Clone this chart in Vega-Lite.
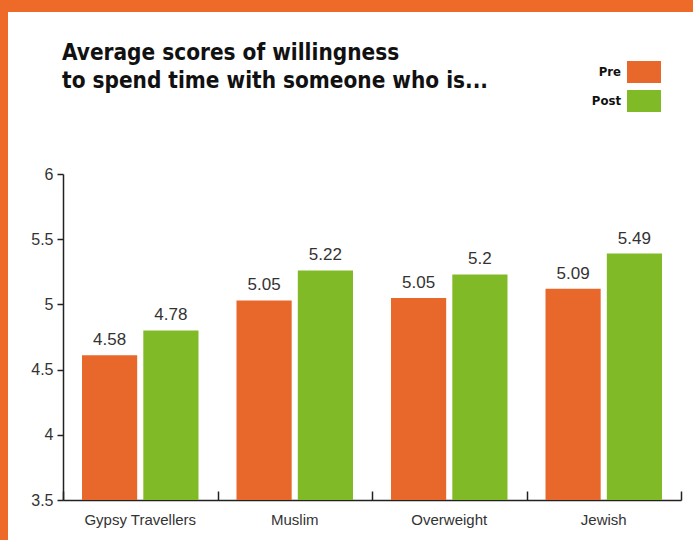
{
  "$schema": "https://vega.github.io/schema/vega-lite/v6.json",
  "autosize": {"type": "none"},
  "width": 685,
  "height": 528,
  "padding": {"left": 8, "top": 12, "right": 0, "bottom": 0},
  "background": "#EE6A28",
  "config": {
    "view": {"fill": "#ffffff", "stroke": null},
    "axis": {"domainColor": "#222222", "tickColor": "#222222", "domainWidth": 1.5, "tickWidth": 1.5, "grid": false, "title": null, "labelFont": "Liberation Sans", "labelColor": "#333333"}
  },
  "title": {
    "text": ["Average scores of willingness", "to spend time with someone who is..."],
    "anchor": "start",
    "frame": "group",
    "offset": -80,
    "dx": 54,
    "font": "Liberation Sans Narrow, DejaVu Sans Condensed, Liberation Sans",
    "fontSize": 22.4,
    "fontWeight": "bold",
    "color": "#111111",
    "lineHeight": 28
  },
  "data": {
    "values": [
      {"group": "Gypsy Travellers", "period": "Pre", "value": 4.61, "label": "4.58"},
      {"group": "Gypsy Travellers", "period": "Post", "value": 4.80, "label": "4.78"},
      {"group": "Muslim", "period": "Pre", "value": 5.03, "label": "5.05"},
      {"group": "Muslim", "period": "Post", "value": 5.26, "label": "5.22"},
      {"group": "Overweight", "period": "Pre", "value": 5.05, "label": "5.05"},
      {"group": "Overweight", "period": "Post", "value": 5.23, "label": "5.2"},
      {"group": "Jewish", "period": "Pre", "value": 5.12, "label": "5.09"},
      {"group": "Jewish", "period": "Post", "value": 5.39, "label": "5.49"}
    ]
  },
  "encoding": {
    "xOffset": {
      "field": "period", "type": "nominal", "sort": ["Pre", "Post"],
      "scale": {"paddingInner": 0.1, "paddingOuter": 0.31}
    },
    "y": {
      "field": "value", "type": "quantitative",
      "scale": {"domain": [3.5, 6], "range": [488, 162], "nice": false, "zero": false},
      "axis": {"orient": "left", "offset": -55, "values": [3.5, 4, 4.5, 5, 5.5, 6], "format": ".1~f", "tickSize": 6, "labelPadding": 4, "labelFontSize": 16}
    }
  },
  "layer": [
    {
      "mark": {"type": "bar"},
      "encoding": {
        "x": {
          "field": "group", "type": "nominal",
          "sort": ["Gypsy Travellers", "Muslim", "Overweight", "Jewish"],
          "scale": {"range": [55, 673], "paddingInner": 0, "paddingOuter": 0},
          "axis": {"orient": "top", "offset": -488, "labels": false, "tickBand": "extent", "tickSize": 9}
        },
        "y2": {"datum": 3.5},
        "color": {
          "field": "period", "type": "nominal", "sort": ["Pre", "Post"],
          "scale": {"domain": ["Pre", "Post"], "range": ["#E8672A", "#80BA27"]},
          "legend": {
            "title": null,
            "orient": "none",
            "legendX": 619,
            "legendY": 43,
            "symbolType": "M-1,-0.65L1,-0.65L1,0.65L-1,0.65Z",
            "symbolSize": 1156,
            "symbolStrokeWidth": 0,
            "labelAlign": "right",
            "labelOffset": -40,
            "labelFont": "Liberation Sans Narrow, DejaVu Sans Condensed, Liberation Sans",
            "labelFontWeight": "bold",
            "labelFontSize": 13,
            "labelColor": "#111111",
            "rowPadding": -10,
            "padding": 0
          }
        }
      }
    },
    {
      "mark": {"type": "text", "baseline": "bottom", "dy": -6, "fontSize": 17, "font": "Liberation Sans", "color": "#333333"},
      "encoding": {
        "x": {
          "field": "group", "type": "nominal",
          "sort": ["Gypsy Travellers", "Muslim", "Overweight", "Jewish"],
          "axis": {"orient": "bottom", "offset": -40, "labelAngle": 0, "domain": false, "ticks": false, "labelPadding": 12, "labelFontSize": 15}
        },
        "text": {"field": "label"}
      }
    }
  ],
  "resolve": {"axis": {"x": "independent"}}
}
